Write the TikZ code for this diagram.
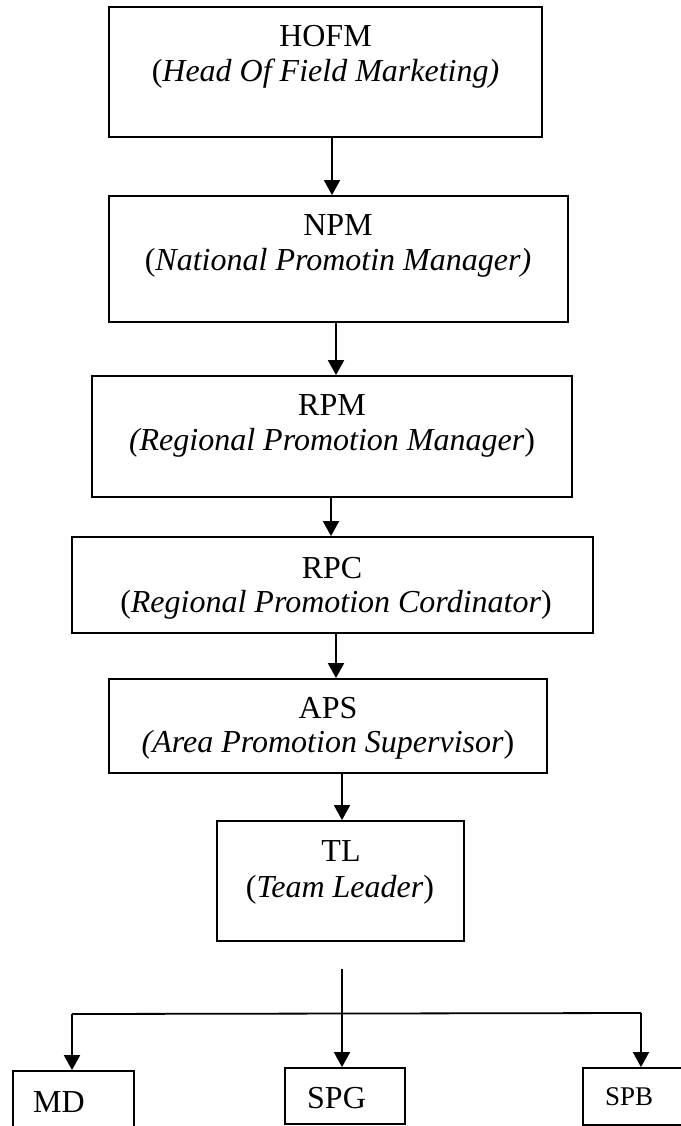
\documentclass[tikz,border=0pt]{standalone}
\usepackage{fontspec}
\setmainfont{Liberation Serif}
\usetikzlibrary{arrows.meta}
\tikzset{
  box/.style={draw, line width=1.8pt, rectangle, inner sep=0pt},
  ttl/.style={anchor=base, inner sep=0pt, font=\fontsize{32}{35}\selectfont},
  lft/.style={anchor=base west, inner sep=0pt, font=\fontsize{32}{35}\selectfont},
  arr/.style={line width=1.8pt, -{Triangle[width=16pt,length=15pt]}},
  ln/.style={line width=1.8pt}
}
\begin{document}
\begin{tikzpicture}[x=1pt,y=-1pt]
\useasboundingbox (0,0) rectangle (680,1126);
% boxes
\node[box, minimum width=433pt, minimum height=130pt] (hofm) at (325.5,72) {};
\node[box, minimum width=459pt, minimum height=126pt] (npm) at (338.5,259) {};
\node[box, minimum width=480pt, minimum height=121pt] (rpm) at (332,436.5) {};
\node[box, minimum width=521pt, minimum height=96pt] (rpc) at (332.5,585) {};
\node[box, minimum width=438pt, minimum height=94pt] (aps) at (328,726) {};
\node[box, minimum width=247pt, minimum height=120pt] (tl) at (340.5,881) {};
\node[box, minimum width=121pt, minimum height=80pt] (md) at (73.5,1111) {};
\node[box, minimum width=120pt, minimum height=56pt] (spg) at (345,1096) {};
\node[box, minimum width=120pt, minimum height=57pt] (spb) at (643,1096.5) {};
% texts
\node[ttl] (hofmA) at (325.5,47) {HOFM};
\node[ttl] (hofmB) at (325.5,82) {(\textit{Head Of Field Marketing)}};
\node[ttl] (npmA) at (338,235) {NPM};
\node[ttl] (npmB) at (338,270) {(\textit{National Promotin Manager)}};
\node[ttl] (rpmA) at (332,415) {RPM};
\node[ttl] (rpmB) at (332,450) {\textit{(Regional Promotion Manager})};
\node[ttl] (rpcA) at (332,578) {RPC};
\node[ttl] (rpcB) at (336,612) {(\textit{Regional Promotion Cordinator})};
\node[ttl] (apsA) at (328,718) {APS};
\node[ttl] (apsB) at (328,752) {\textit{(Area Promotion Supervisor})};
\node[ttl] (tlA) at (341,861) {TL};
\node[ttl] (tlB) at (340,897) {(\textit{Team Leader})};
\node[lft] (mdT) at (33,1112) {MD};
\node[lft] (spgT) at (307,1108) {SPG};
\node[lft, font=\fontsize{27}{30}\selectfont] (spbT) at (605,1105) {SPB};
% connectors
\coordinate (c1) at (332,0);
\coordinate (c2) at (336,0);
\coordinate (c3) at (331,0);
\coordinate (c4) at (336,0);
\coordinate (c5) at (342,0);
\draw[arr] (hofm.south -| c1) -- (npm.north -| c1);
\draw[arr] (npm.south -| c2) -- (rpm.north -| c2);
\draw[arr] (rpm.south -| c3) -- (rpc.north -| c3);
\draw[arr] (rpc.south -| c4) -- (aps.north -| c4);
\draw[arr] (aps.south -| c5) -- (tl.north -| c5);
\coordinate (stub) at (342,969);
\coordinate (bl) at (72,1014);
\coordinate (br) at (641,1013);
\draw[ln] (bl) -- (br);
\draw[arr] (stub) -- (stub |- spg.north);
\draw[arr] (bl) -- (bl |- md.north);
\draw[arr] (br) -- (br |- spb.north);
\end{tikzpicture}
\end{document}
